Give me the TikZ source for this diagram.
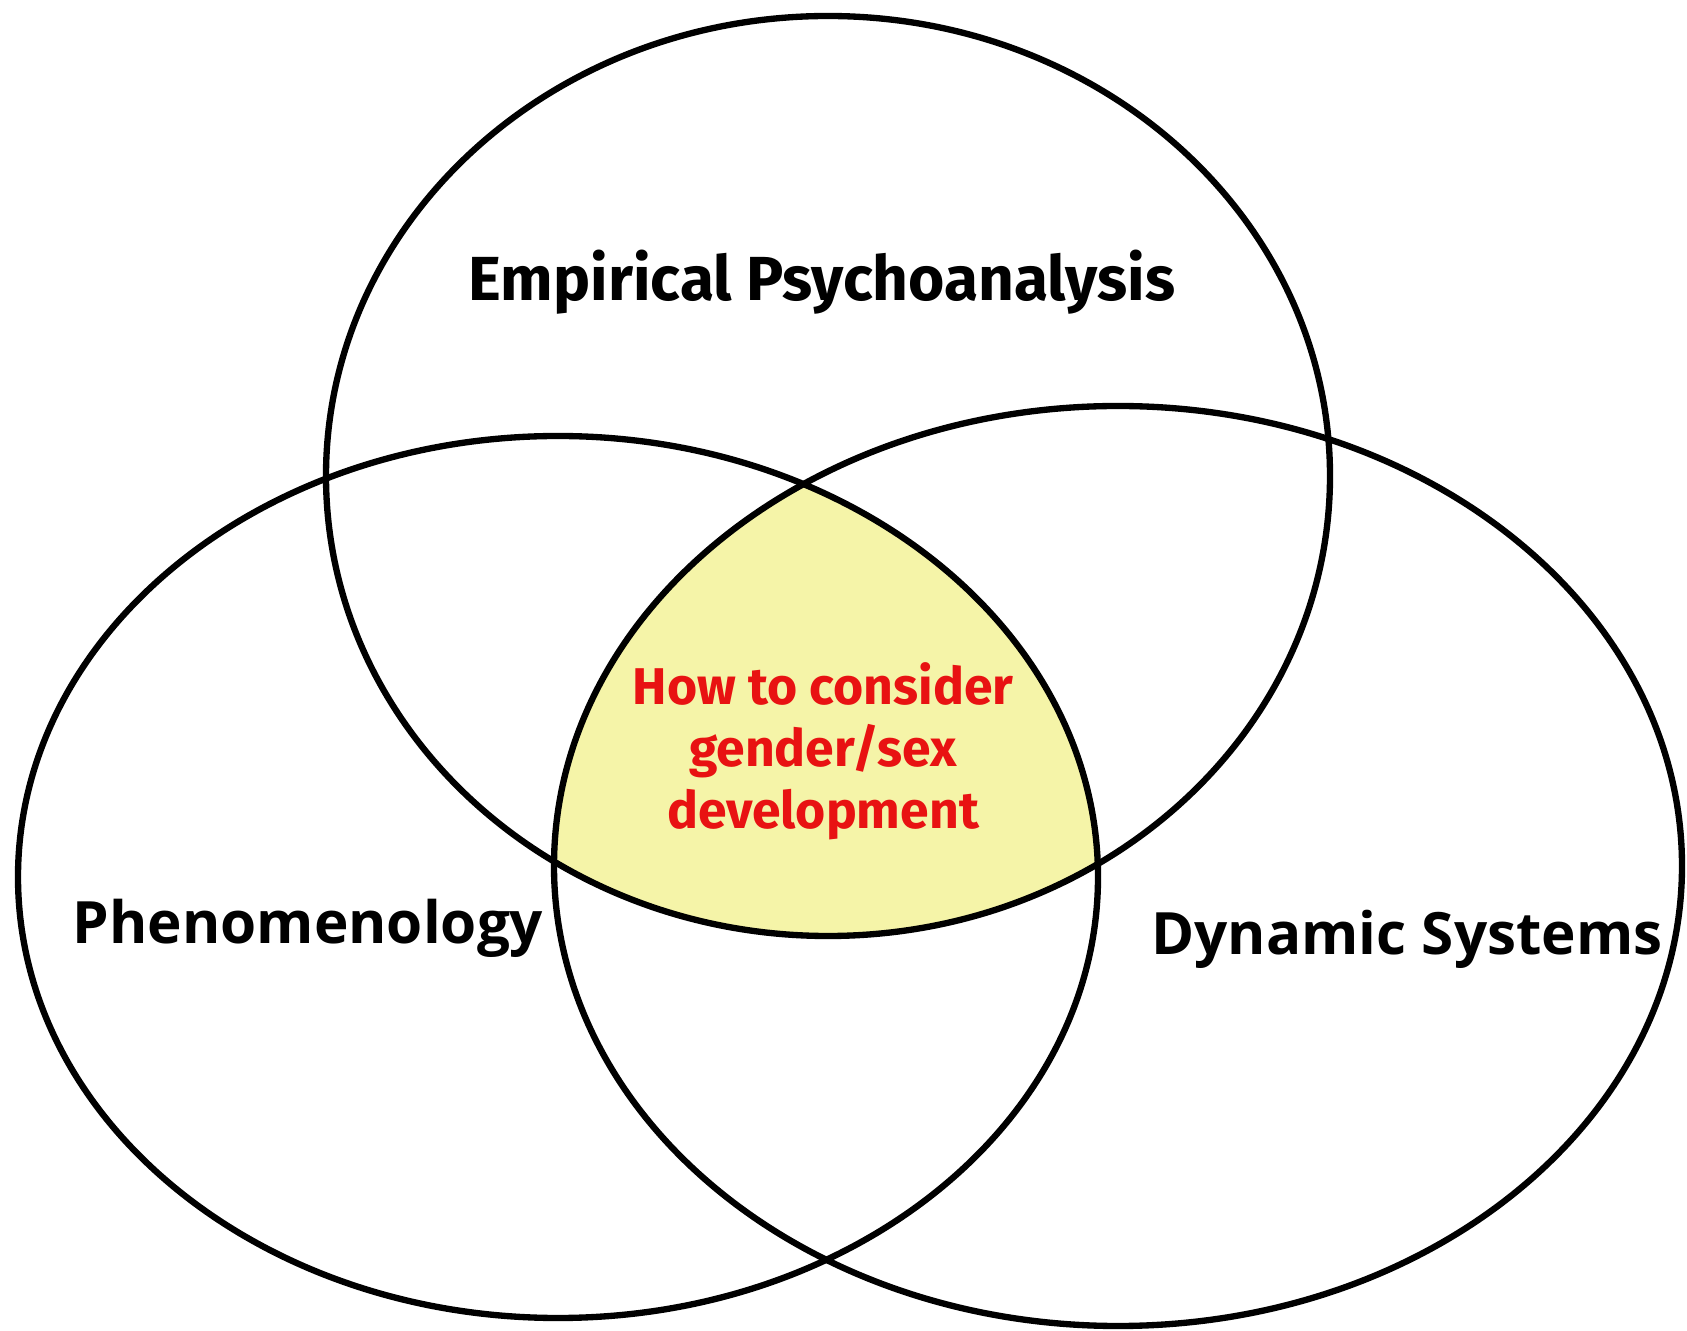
\documentclass[tikz,border=0pt]{standalone}
\usepackage{fontspec}
\setmainfont{Fira Sans}
\newfontfamily\sidefont{Open Sans}
\usetikzlibrary{positioning}
\definecolor{overlapyellow}{RGB}{245,244,168}
\definecolor{centrered}{RGB}{232,18,18}

\begin{document}
\begin{tikzpicture}[x=0.01cm, y=-0.01cm,
		ring/.style={draw, line width=1.8pt},
		top/.style={font=\bfseries\fontsize{17.7}{20}\selectfont, anchor=base},
		side/.style={font=\sidefont\bfseries\fontsize{16.6}{19}\selectfont, anchor=base},
		mid/.style={font=\bfseries\fontsize{14.7}{17.6}\selectfont, text=centrered, align=center}]
		\useasboundingbox (0,0) rectangle (1687,1331);
		\coordinate (e) at (828,476);
		\coordinate (p) at (558,877);
		\coordinate (d) at (1118,866);

		\begin{scope}
			\clip (e) ellipse [x radius=502, y radius=460];
			\clip (p) ellipse [x radius=540, y radius=441];
			\fill[overlapyellow] (d) ellipse [x radius=564, y radius=460];
		\end{scope}

		\path[ring] (e) ellipse [x radius=502, y radius=460];
		\path[ring] (p) ellipse [x radius=540, y radius=441];
		\path[ring] (d) ellipse [x radius=564, y radius=460];

		\node[top] (emp) at (822,301) {Empirical Psychoanalysis};
		\node[side] (phen) at (308,944) {Phenomenology};
		\node[side] (dyn) at (1407,955) {Dynamic Systems};
		\node[mid] (how) at (823,751) {How to consider\\gender/sex\\development};
	\end{tikzpicture}
\end{document}
